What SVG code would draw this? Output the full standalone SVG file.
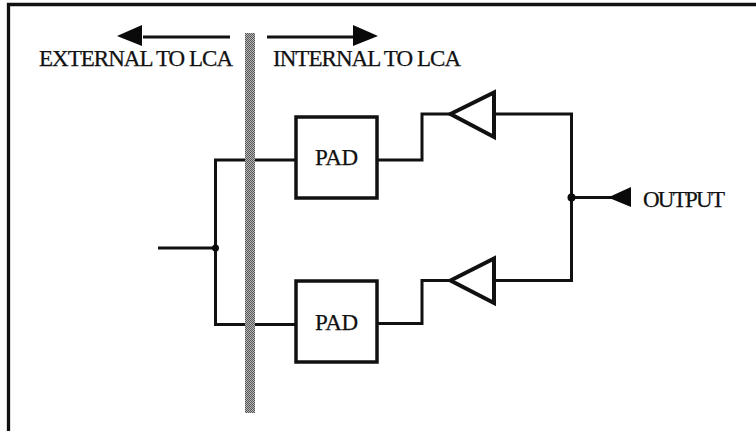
<svg xmlns="http://www.w3.org/2000/svg" width="756" height="431" viewBox="0 0 756 431">
<defs><style>
.w{fill:none;stroke:#111;stroke-width:3}
.b{fill:#fff;stroke:#111;stroke-width:3.500}
.t{fill:#fff;stroke:#111;stroke-width:4}
.h{fill:#0a0a0a;stroke:none}
text{font-family:"Liberation Serif","Times New Roman",serif;fill:#111;stroke:#111;stroke-width:.25;font-size:23px}
</style>
<pattern id="dots" width="2" height="2" patternUnits="userSpaceOnUse"><rect width="2" height="2" fill="#b8b8b8"/><rect width="1" height="1" fill="#555"/><rect x="1" y="1" width="1" height="1" fill="#555"/></pattern>
</defs>
<rect width="756" height="431" fill="#fff"/>
<path id="frame" d="M8.500 431V4.500H756" fill="none" stroke="#111" stroke-width="3.300"/>
<g id="connectors">
<path class="w" d="M158 248H215.500"/>
<path class="w" d="M295 160H215.500V324.500H295"/>
<path class="w" d="M377 160H422V114H452"/>
<path class="w" d="M377 323.500H422V280.500H452"/>
<path class="w" d="M494 114H571.500V280.500H494"/>
<path class="w" d="M571.500 197.500H612"/>
<path class="w" d="M143 37H230"/>
<path class="w" d="M267 37H355"/>
</g>
<g id="barrier"><rect x="245" y="33" width="10" height="380" fill="url(#dots)"/></g>
<g id="pad-top"><rect class="b" x="296" y="117" width="81" height="81"/><text x="336.500" y="165" text-anchor="middle" textLength="43" lengthAdjust="spacing">PAD</text></g>
<g id="pad-bottom"><rect class="b" x="296" y="281" width="81" height="81"/><text x="336.500" y="330" text-anchor="middle" textLength="43" lengthAdjust="spacing">PAD</text></g>
<g id="buffer-top"><polygon class="t" points="450.500,114 494,92.500 494,137"/></g>
<g id="buffer-bottom"><polygon class="t" points="450.500,280.500 494,258.500 494,303"/></g>
<g id="junctions"><circle class="h" cx="215.500" cy="248" r="3.500"/><circle class="h" cx="571.500" cy="197.500" r="4"/></g>
<g id="output"><polygon class="h" points="608,197.500 631,187 631,207"/><text x="643" y="207" textLength="82" lengthAdjust="spacing">OUTPUT</text></g>
<g id="external"><polygon class="h" points="117,36 142,25 142,46"/><text x="39" y="66" textLength="194" lengthAdjust="spacing">EXTERNAL TO LCA</text></g>
<g id="internal"><polygon class="h" points="378,36 353,25 353,46"/><text x="273" y="66" textLength="188" lengthAdjust="spacing">INTERNAL TO LCA</text></g>
</svg>
